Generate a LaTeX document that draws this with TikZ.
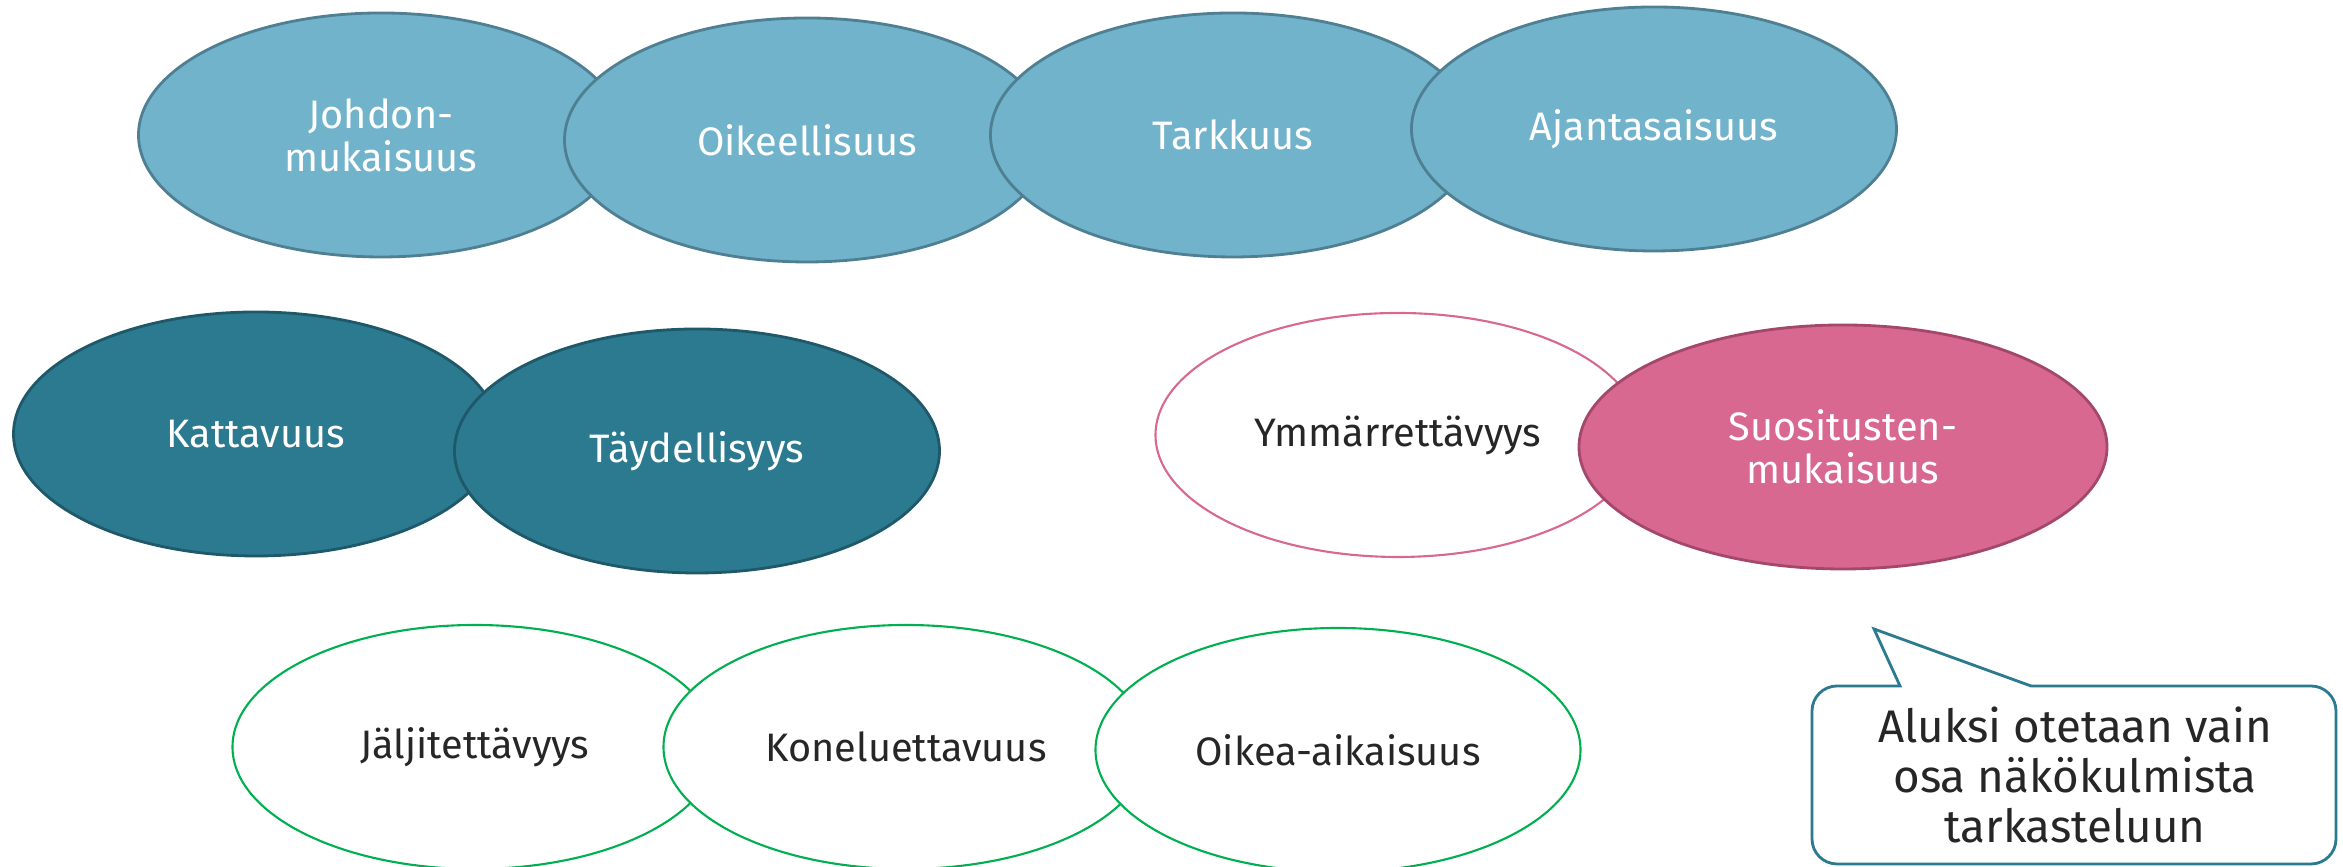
\documentclass[tikz,border=0pt]{standalone}
\usepackage{fontspec}
\setmainfont{Fira Sans}
\usetikzlibrary{shapes.geometric}

\definecolor{lblue}{HTML}{72B3CC}
\definecolor{lblueline}{HTML}{4E7F92}
\definecolor{dteal}{HTML}{2B7A8F}
\definecolor{dtealline}{HTML}{1F5868}
\definecolor{rose}{HTML}{D86890}
\definecolor{roseline}{HTML}{A3486B}
\definecolor{lgreen}{HTML}{00B050}
\definecolor{txt}{HTML}{262626}

\begin{document}
\begin{tikzpicture}[ell/.style={draw,ellipse,minimum width=4.85cm,minimum height=2.44cm,inner sep=0pt,align=center,line width=0.8pt,font=\fontsize{11.3}{12.2}\selectfont},
    light/.style={ell,fill=lblue,draw=lblueline,text=white},
    dark/.style={ell,fill=dteal,draw=dtealline,text=white},
    rosefill/.style={ell,fill=rose,draw=roseline,text=white},
    roseline/.style={ell,fill=white,draw=rose,text=txt,line width=0.6pt},
    green/.style={ell,fill=white,draw=lgreen,text=txt,line width=0.6pt}]
    \useasboundingbox (0,0) rectangle (23.43,8.67);

    \node[light] (0) at (3.81,7.32) {Johdon-\\mukaisuus};
    \node[light] (1) at (8.07,7.27) {Oikeellisuus};
    \node[light] (2) at (12.33,7.32) {Tarkkuus};
    \node[light] (3) at (16.54,7.38) {Ajantasaisuus};

    \node[dark] (4) at (2.56,4.33) {Kattavuus};
    \node[dark] (5) at (6.97,4.16) {Täydellisyys};

    \node[roseline] (6) at (13.98,4.32) {Ymmärrettävyys};
    \node[rosefill,minimum width=5.28cm] (7) at (18.43,4.20) {Suositusten-\\mukaisuus};

    \node[green] (8) at (4.75,1.20) {Jäljitettävyys};
    \node[green] (9) at (9.06,1.20) {Koneluettavuus};
    \node[green] (10) at (13.38,1.17) {Oikea-aikaisuus};

    \draw[dteal,line width=0.8pt,fill=white] (18.74,2.38) -- (20.31,1.81) -- (23.11,1.81)
      arc[start angle=90,end angle=0,radius=0.25] -- (23.36,0.28)
      arc[start angle=0,end angle=-90,radius=0.25] -- (18.37,0.03)
      arc[start angle=270,end angle=180,radius=0.25] -- (18.12,1.56)
      arc[start angle=180,end angle=90,radius=0.25] -- (19.00,1.81) -- cycle;
    \node[align=center,text=txt,font=\fontsize{13}{14.2}\selectfont] (11) at (20.75,0.92) {Aluksi otetaan vain\\osa näkökulmista\\tarkasteluun};
  \end{tikzpicture}
\end{document}
